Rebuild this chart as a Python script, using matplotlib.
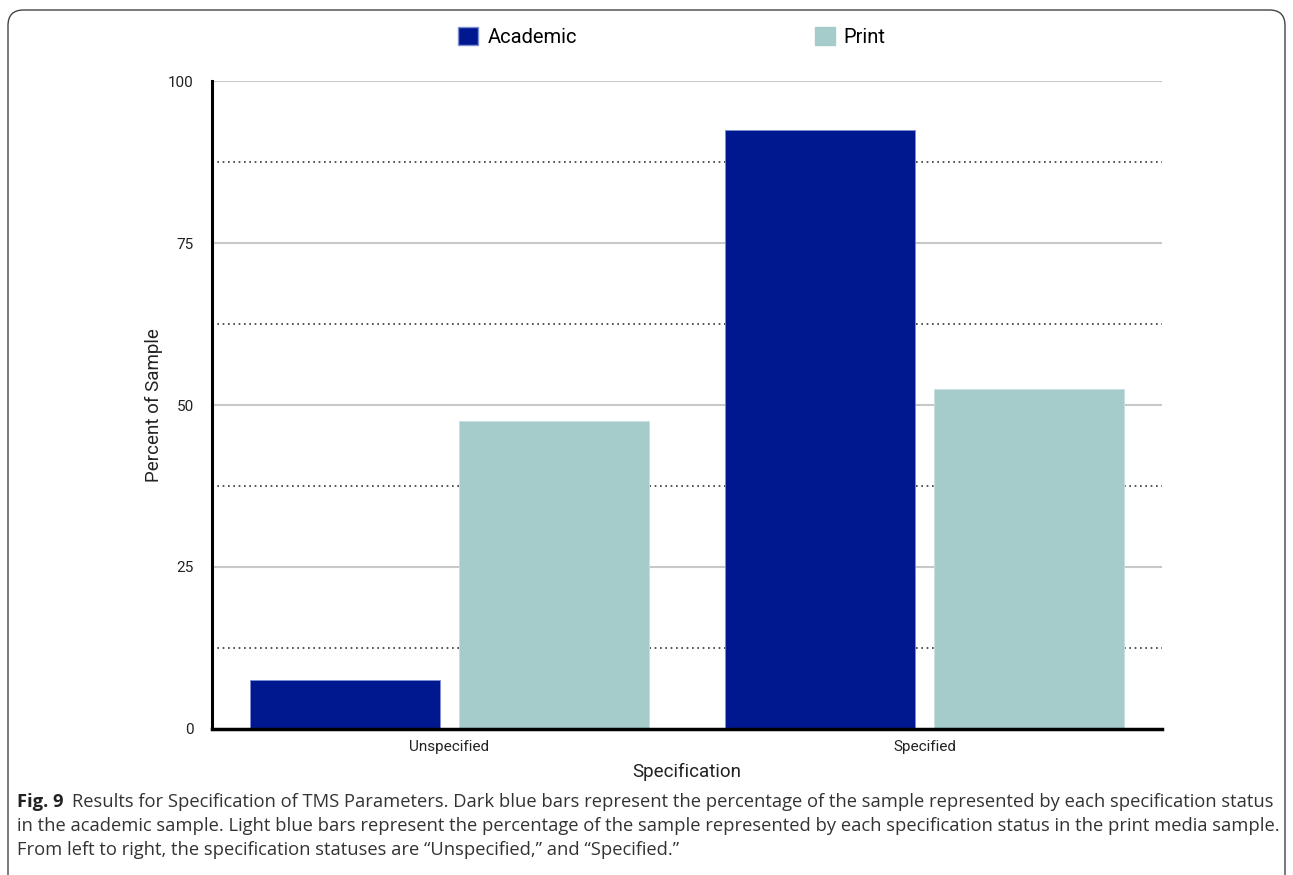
import matplotlib
matplotlib.use("Agg")
import matplotlib.pyplot as plt
from matplotlib.patches import FancyBboxPatch, Patch
import numpy as np

categories = ["Unspecified", "Specified"]
academic = [7.6, 92.4]
print_media = [47.6, 52.4]
series_names = ["Academic", "Print"]
yticks = [0, 25, 50, 75, 100]
minor_ticks = [12.5, 37.5, 62.5, 87.5]

DARK = "#00188f"
LIGHT = "#a5cbcb"
CHART_FONT = ["Roboto", "DejaVu Sans"]
CAP_FONT = ["Open Sans", "Noto Sans", "DejaVu Sans"]

fig = plt.figure(figsize=(12.93, 8.75), dpi=100)
W, H = 1293, 875

ax = fig.add_axes([212 / W, 1 - 729 / H, (1162 - 212) / W, (729 - 81) / H])

x = np.arange(len(categories))
ax.bar(x - 0.22, academic, width=0.40, color=DARK, edgecolor="#7f8fd0", linewidth=0.6, zorder=3)
ax.bar(x + 0.22, print_media, width=0.40, color=LIGHT, edgecolor="#c8e0e0", linewidth=0.6, zorder=3)

ax.set_xlim(-0.5, 1.5)
ax.set_ylim(0, 100)

for v in yticks[1:]:
    ax.axhline(v, color="#c8c8c8", linewidth=1.5, zorder=1)
for v in minor_ticks:
    ax.axhline(v, color="#333333", linewidth=1.2, linestyle=(0, (1, 2.2)), zorder=1)

for s in ["top", "right"]:
    ax.spines[s].set_visible(False)
ax.spines["left"].set_linewidth(2.2)
ax.spines["left"].set_color("black")
ax.spines["bottom"].set_linewidth(2.5)
ax.spines["bottom"].set_color("black")
ax.spines["bottom"].set_zorder(4)

ax.set_yticks(yticks)
ax.set_yticklabels([str(v) for v in yticks], fontfamily=CHART_FONT, fontsize=11, color="#222222")
ax.set_xticks(x)
ax.set_xticklabels(categories, fontfamily=CHART_FONT, fontsize=11, color="#222222")
ax.tick_params(axis="both", length=0)
ax.tick_params(axis="y", pad=13)
ax.tick_params(axis="x", pad=8)

ax.set_ylabel("Percent of Sample", fontfamily=CHART_FONT, fontsize=13.5, color="#222222", labelpad=4)
ax.set_xlabel("Specification", fontfamily=CHART_FONT, fontsize=13.5, color="#222222", labelpad=6)

handles = [Patch(facecolor=DARK, edgecolor="#7f8fd0"), Patch(facecolor=LIGHT, edgecolor=LIGHT)]
fig.legend(handles, series_names, loc="center", bbox_to_anchor=(672 / W, 1 - 37 / H), ncol=2,
           frameon=False, prop={"family": CHART_FONT, "size": 14.5}, columnspacing=11.8,
           handlelength=1.0, handleheight=1.0, handletextpad=0.45)

# figure border (rounded, open at bottom)
box = FancyBboxPatch((8 / W, -0.05), (1285 - 8) / W, (1 - 10 / H) + 0.05,
                     boxstyle="round,pad=0,rounding_size=0.012", transform=fig.transFigure,
                     fill=False, edgecolor="#444444", linewidth=1.0, mutation_aspect=W / H)
fig.patches.append(box)

cap_lines = [
    "Results for Specification of TMS Parameters. Dark blue bars represent the percentage of the sample represented by each specification status",
    "in the academic sample. Light blue bars represent the percentage of the sample represented by each specification status in the print media sample.",
    "From left to right, the specification statuses are \u201cUnspecified,\u201d and \u201cSpecified.\u201d",
]
CAP_SIZE = 13.2
t = fig.text(17 / W, 1 - 802 / H, "Fig. 9", fontfamily=CAP_FONT, fontweight="bold", fontsize=CAP_SIZE,
             color="#222222", va="center", ha="left")
fig.canvas.draw()
bb = t.get_window_extent()
fig.text((bb.x1 + 9) / W, 1 - 802 / H, cap_lines[0], fontfamily=CAP_FONT, fontsize=CAP_SIZE,
         color="#333333", va="center", ha="left")
fig.text(17 / W, 1 - 826 / H, cap_lines[1], fontfamily=CAP_FONT, fontsize=CAP_SIZE,
         color="#333333", va="center", ha="left")
fig.text(17 / W, 1 - 850 / H, cap_lines[2], fontfamily=CAP_FONT, fontsize=CAP_SIZE,
         color="#333333", va="center", ha="left")

fig.savefig("out.png", dpi=100)
